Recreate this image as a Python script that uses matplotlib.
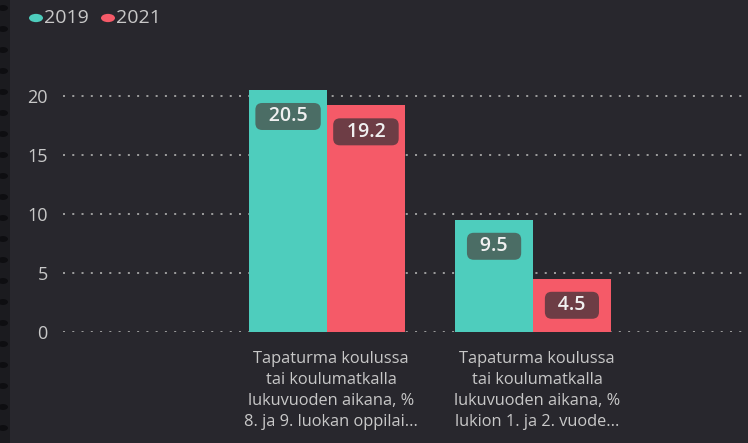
import matplotlib
matplotlib.use("Agg")
import matplotlib.pyplot as plt
from matplotlib.patches import Rectangle, Circle

# data
categories = [
    "Tapaturma koulussa\ntai koulumatkalla\nlukuvuoden aikana, %\n8. ja 9. luokan oppilai...",
    "Tapaturma koulussa\ntai koulumatkalla\nlukuvuoden aikana, %\nlukion 1. ja 2. vuode...",
]
series_names = ["2019", "2021"]
values_2019 = [20.5, 9.5]
values_2021 = [19.2, 4.5]
y_ticks = [0, 5, 10, 15, 20]

bg = "#28272d"
teal = "#4ecdbd"
red = "#f55a68"
box_teal = "#4b6d65"
box_red = "#6d3d45"
txt = "#c8c8c8"

plt.rcParams["font.family"] = ["Open Sans", "DejaVu Sans"]

W, H = 748, 443
fig = plt.figure(figsize=(W / 100, H / 100), dpi=100, facecolor=bg)

# axes placement in pixels
x0_px, x1_px = 63, 748
ymin, ymax = 0, 22
px_per_unit = 11.8
y0_px = 332
ytop_px = y0_px - ymax * px_per_unit
ax = fig.add_axes([x0_px / W, 1 - y0_px / H, (x1_px - x0_px) / W, (y0_px - ytop_px) / H])
ax.set_facecolor(bg)

# category centres at 0, 1 -> pixels 327, 533
spacing = 206
ax.set_xlim((x0_px - 327) / spacing, (x1_px - 327) / spacing)
ax.set_ylim(ymin, ymax)

w = 0.378
pos = list(range(len(categories)))
b1 = ax.bar([p - w / 2 for p in pos], values_2019, width=w, color=teal, zorder=3)
b2 = ax.bar([p + w / 2 for p in pos], values_2021, width=w, color=red, zorder=3)

# value labels in dark rounded boxes
for bars, vals, bc in [(b1, values_2019, box_teal), (b2, values_2021, box_red)]:
    for rect, v in zip(bars, vals):
        ax.annotate(f"\u2002{v:.1f}\u2002", (rect.get_x() + rect.get_width() / 2, v),
                    xytext=(0, -19), textcoords="offset points",
                    ha="center", va="center", fontsize=14, fontweight="semibold",
                    color="#f0f0f0", zorder=5,
                    bbox=dict(boxstyle="round,pad=0.18,rounding_size=0.35",
                              fc=bc, ec="none"))

ax.set_yticks(y_ticks)
ax.yaxis.grid(True, linestyle=(0, (1, 3.6)), color="#9a9a9a", linewidth=1.45, zorder=0)
ax.set_axisbelow(True)
ax.tick_params(axis="y", length=0, labelsize=13, labelcolor=txt, pad=11)
# labels sit slightly right of the category centre
ax.set_xticks([p + 0.02 for p in pos])
ax.set_xticklabels(categories, fontsize=11.8, color=txt, linespacing=1.4)
ax.tick_params(axis="x", length=0, pad=14)
for s in ax.spines.values():
    s.set_visible(False)

# legend
cols = [teal, red]
lx = [36, 108]
for name, c, x in zip(series_names, cols, lx):
    fig.patches.append(Circle((x / W, 1 - 18 / H), 7 / W, transform=fig.transFigure,
                              fc=c, ec="none"))
    fig.text((x + 8) / W, 1 - 18 / H, name, color=txt, fontsize=14, va="center", ha="left")

# left dark strip
fig.patches.append(Rectangle((0, 0), 10 / W, 1, transform=fig.transFigure,
                             fc="#1b1b1f", ec="none"))
for i in range(22):
    yy = 8 + i * 21
    fig.patches.append(Circle((3 / W, 1 - yy / H), 5 / W, transform=fig.transFigure,
                              fc="#0e0e11", ec="none"))

fig.savefig("out.png", dpi=100, facecolor=bg)
